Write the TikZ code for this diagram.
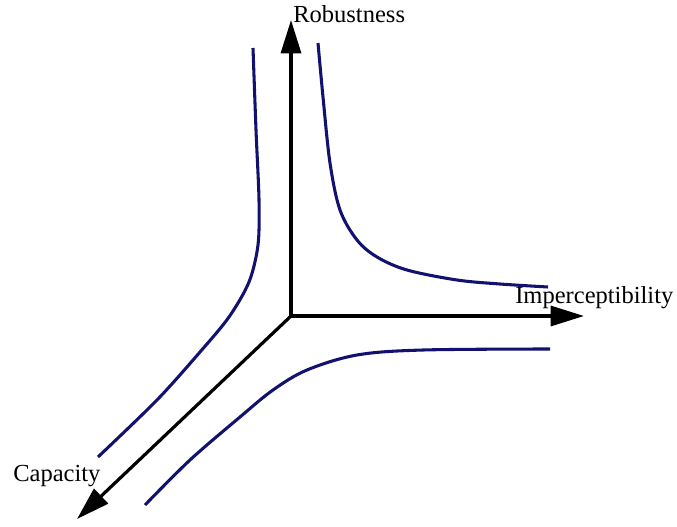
\documentclass[tikz,border=0pt]{standalone}
\usepackage{fontspec}
\setmainfont{Liberation Serif}
\usetikzlibrary{arrows.meta}
\definecolor{curvenavy}{RGB}{18,18,110}
\begin{document}
\begin{tikzpicture}[x=0.75pt,y=-0.75pt,
  axis/.style={line width=2.4pt,black,-{Triangle[length=25pt,width=15pt]}},
  trade/.style={line width=2.3pt,curvenavy,line cap=butt},
  lbl/.style={inner sep=0pt,anchor=base west,font=\fontsize{18.4pt}{22pt}\selectfont}]
\useasboundingbox (0,0) rectangle (677,527);
\coordinate (O) at (291,316);
\coordinate (up) at (291,20);
\coordinate (right) at (584,316);
\coordinate (down) at (77,519);
\draw[axis] (O) -- (up);
\draw[axis] (O) -- (right);
\draw[axis] (O) -- (down);
\node[lbl] (rob) at (293,23) {Robustness};
\node[lbl] (imp) at (515,303) {Imperceptibility};
\node[lbl] (cap) at (13,481) {Capacity};
% upper right curve
\draw[trade] plot[smooth,tension=0.55] coordinates {(318,43) (323,97) (330,163) (340,210) (357,240) (377,257) (407,270) (457,280) (500,284) (548,287)};
% left curve
\draw[trade] plot[smooth,tension=0.5] coordinates {(253,48) (256,130) (259,200) (258,245) (249,282) (229,317) (200,352) (157,400) (98,457)};
% lower curve
\draw[trade] plot[smooth,tension=0.55] coordinates {(145,505) (190,460) (240,417) (273,390) (307,370) (357,355) (423,350) (550,349)};
\end{tikzpicture}
\end{document}
